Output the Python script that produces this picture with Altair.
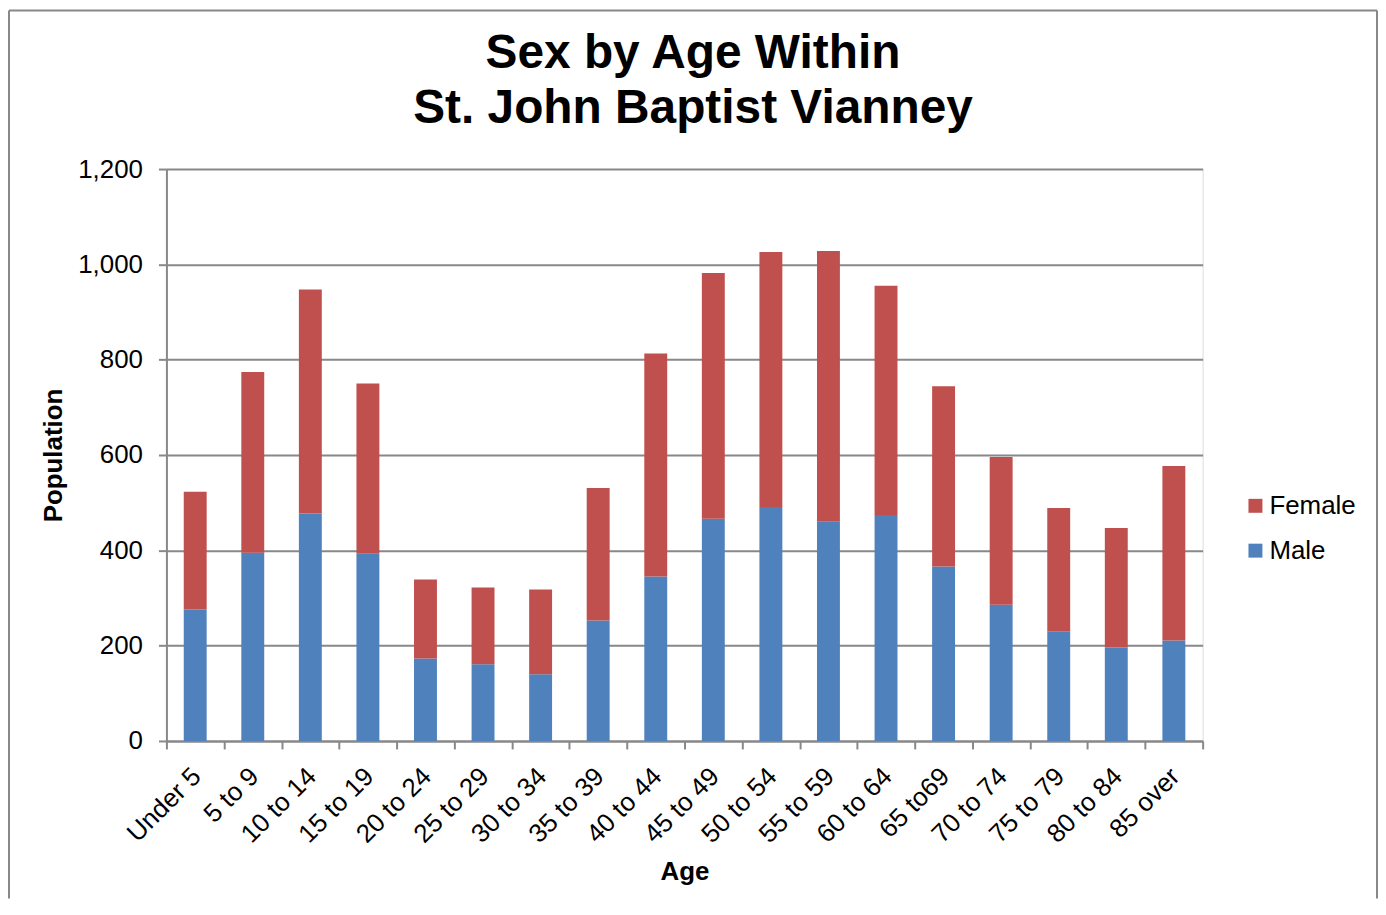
import altair as alt
import pandas as pd

ages = ["Under 5", "5 to 9", "10 to 14", "15 to 19", "20 to 24", "25 to 29",
        "30 to 34", "35 to 39", "40 to 44", "45 to 49", "50 to 54", "55 to 59",
        "60 to 64", "65 to69", "70 to 74", "75 to 79", "80 to 84", "85 over"]
male = [276, 395, 477, 393, 173, 161, 140, 253, 345, 466, 491, 460, 474, 366, 286, 230, 196, 211]
female_total = [523, 774, 947, 750, 339, 322, 318, 531, 813, 982, 1026, 1028, 955, 744, 596, 489, 447, 577]
female = [t - m for t, m in zip(female_total, male)]

rows = []
for a, m, f in zip(ages, male, female):
    rows.append({"Age": a, "Sex": "Male", "Population": m, "ord": 0})
    rows.append({"Age": a, "Sex": "Female", "Population": f, "ord": 1})
df = pd.DataFrame(rows)

FONT = "Liberation Sans"
W, H = 1040, 574

bars = alt.Chart(df).mark_bar(size=23).encode(
    x=alt.X("Age:N", sort=ages,
            scale=alt.Scale(paddingInner=0, paddingOuter=0, round=False),
            axis=alt.Axis(title="Age", labelAngle=-45, labelFontSize=26,
                          labelFont=FONT, labelColor="#000", titleFont=FONT,
                          titleFontSize=26, titleFontWeight="bold", titleColor="#000",
                          titlePadding=11, tickBand="extent", tickSize=8,
                          tickColor="#888", domainColor="#888", domainWidth=2,
                          tickWidth=2, labelPadding=14, labelOffset=-8, grid=False)),
    y=alt.Y("Population:Q", stack="zero",
            scale=alt.Scale(domain=[0, 1200], nice=False),
            axis=alt.Axis(title="Population", values=[0, 200, 400, 600, 800, 1000, 1200],
                          format=",.0f", labelFontSize=26, labelFont=FONT, labelColor="#000",
                          titleFont=FONT, titleFontSize=26, titleFontWeight="bold",
                          titleColor="#000", titlePadding=11, tickSize=8,
                          tickColor="#888", tickWidth=2, domainColor="#888", domainWidth=2,
                          gridColor="#888", gridWidth=2, labelPadding=16)),
    color=alt.Color("Sex:N", sort=["Female", "Male"],
                    scale=alt.Scale(domain=["Female", "Male"], range=["#C0504D", "#4F81BD"]),
                    legend=alt.Legend(title=None, orient="none", legendX=1080, legendY=325,
                                      symbolType="square", symbolSize=196, symbolStrokeWidth=0,
                                      labelFontSize=26, labelFont=FONT, labelColor="#000",
                                      rowPadding=19, labelOffset=1)),
    order=alt.Order("ord:Q"),
)

frame_src = pd.DataFrame({"a": [0]})
rule_style = dict(stroke="#888", strokeWidth=2, clip=False)
top_line = alt.Chart(frame_src).mark_rule(**rule_style).encode(
    x=alt.value(-158), x2=alt.value(1215), y=alt.value(-159))
left_line = alt.Chart(frame_src).mark_rule(**rule_style).encode(
    x=alt.value(-158), y=alt.value(-159), y2=alt.value(732))
right_line = alt.Chart(frame_src).mark_rule(**rule_style).encode(
    x=alt.value(1215), y=alt.value(-159), y2=alt.value(732))

chart = alt.layer(top_line, left_line, right_line, bars).properties(
    width=W, height=H,
    title=alt.TitleParams(["Sex by Age Within", "St. John Baptist Vianney"],
                          fontSize=48, font=FONT, fontWeight="bold", color="#000",
                          anchor="middle", frame="bounds", lineHeight=55, offset=-124),
    padding=0,
).configure_view(stroke=None).configure(background="white")

chart.save("out.html", embed_options={"renderer": "svg", "actions": False})
